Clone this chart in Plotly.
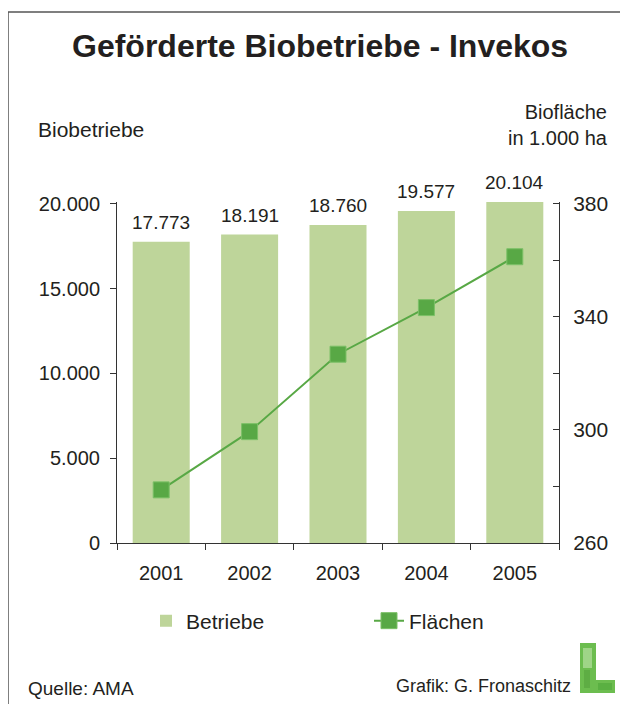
import plotly.graph_objects as go

# data
years = ["2001", "2002", "2003", "2004", "2005"]
betriebe = [17773, 18191, 18760, 19577, 20104]
flaechen = [278.8, 299.4, 326.8, 343.3, 361.3]

# the page body has an 8px margin, so the figure is drawn 8px smaller
OFF = 8
W, H = 628 - OFF, 704 - OFF
# plot area in page pixels (top a bit above the 20.000 tick so the last bar fits)
L, R, T, B = 117, 559, 202, 543
Y1_MAX = 20110
Y2_MAX = 260 + 120 * Y1_MAX / 20000

bar_color = "#bed59a"
line_color = "#58a845"
axis_color = "#333333"
ink = "#231f20"
font = "Liberation Sans, Arial, sans-serif"


def px_x(x):
    return (x - L) / (R - L)


def px_y(y):
    return (B - y) / (B - T)


def de_num(v):
    return f"{v:,}".replace(",", ".")


fig = go.Figure()
fig.add_trace(go.Bar(
    x=years, y=betriebe, name="Betriebe",
    marker=dict(color=bar_color, line=dict(width=0)),
))
fig.add_trace(go.Scatter(
    x=years, y=flaechen, name="Flächen", yaxis="y2", mode="lines+markers",
    line=dict(color=line_color, width=2),
    marker=dict(symbol="square", size=16, color=line_color,
                line=dict(color="#7cc067", width=1)),
))


def box(x0, x1, y0, y1, color, opacity=1):
    return dict(type="rect", xref="paper", yref="paper",
                x0=px_x(x0), x1=px_x(x1), y0=px_y(y0), y1=px_y(y1),
                fillcolor=color, line=dict(width=0), opacity=opacity, layer="above")


shapes = [
    # frame lines (top and left)
    dict(type="line", xref="paper", yref="paper", x0=px_x(8), x1=px_x(630), y0=px_y(12), y1=px_y(12),
         line=dict(color="#555555", width=1.5)),
    dict(type="line", xref="paper", yref="paper", x0=px_x(8), x1=px_x(8), y0=px_y(12), y1=px_y(706),
         line=dict(color="#555555", width=1.5)),
    # logo, green "L"
    box(580, 596, 643, 693, "#6cbd4f"),
    box(580, 615, 680, 693, "#6cbd4f"),
    box(583, 592, 648, 668, "#b5dfa0", 0.7),
    box(584, 590, 670, 688, "#4f9e3a", 0.5),
    box(598, 612, 683, 690, "#4ea63a", 0.6),
]

annotations = [
    dict(text="<b>Geförderte Biobetriebe - Invekos</b>", x=px_x(320), y=px_y(46),
         font=dict(size=32, color=ink, family=font)),
    dict(text="Biobetriebe", x=px_x(36), y=px_y(130), xanchor="left",
         font=dict(size=21, color=ink, family=font)),
    dict(text="Biofläche<br>in 1.000 ha", x=px_x(610), y=px_y(125), xanchor="right", align="right",
         font=dict(size=20, color=ink, family=font)),
    dict(text="Quelle: AMA", x=px_x(26), y=px_y(688), xanchor="left",
         font=dict(size=19, color=ink, family=font)),
    dict(text="Grafik: G. Fronaschitz", x=px_x(573), y=px_y(686), xanchor="right",
         font=dict(size=18, color=ink, family=font)),
]
for a in annotations:
    a.update(xref="paper", yref="paper", showarrow=False)
    a.setdefault("xanchor", "center")
    a.setdefault("yanchor", "middle")

# value labels above the bars (x given as category index)
for i, v in enumerate(betriebe):
    annotations.append(dict(x=i, y=v, xref="x", yref="y", text=de_num(v), showarrow=False,
                            xanchor="center", yanchor="bottom", yshift=7,
                            font=dict(size=19, color=ink, family=font)))

fig.update_layout(
    width=W, height=H,
    margin=dict(l=L - OFF, r=628 - R, t=T - OFF, b=704 - B),
    paper_bgcolor="white", plot_bgcolor="white",
    font=dict(family=font, size=20, color=ink),
    separators=",.",
    bargap=0.355,
    showlegend=True,
    legend=dict(orientation="h", x=px_x(146), y=px_y(621), yanchor="middle", xanchor="left",
                entrywidth=178, itemwidth=30, font=dict(size=21), traceorder="normal"),
    xaxis=dict(type="category", showline=True, linecolor=axis_color, linewidth=1, ticks="outside",
               tickson="boundaries", ticklen=6, tickcolor=axis_color, showgrid=False,
               tickfont=dict(size=20), ticklabelstandoff=12, fixedrange=True),
    yaxis=dict(range=[0, Y1_MAX], tickvals=[0, 5000, 10000, 15000, 20000], tickformat=",d",
               showline=True, linecolor=axis_color, ticks="outside", ticklen=6,
               tickcolor=axis_color, showgrid=False, zeroline=False, tickfont=dict(size=20),
               ticklabelstandoff=6),
    yaxis2=dict(range=[260, Y2_MAX], tickvals=[260, 300, 340, 380], overlaying="y", side="right",
                showline=True, linecolor=axis_color, ticks="inside", ticklen=6,
                tickcolor=axis_color,
                minor=dict(tickvals=[280, 320, 360], ticks="inside", ticklen=6,
                           tickcolor=axis_color),
                showgrid=False, zeroline=False, tickfont=dict(size=21), ticklabelstandoff=9),
    shapes=shapes,
    annotations=annotations,
)

fig.write_html("out.html")
